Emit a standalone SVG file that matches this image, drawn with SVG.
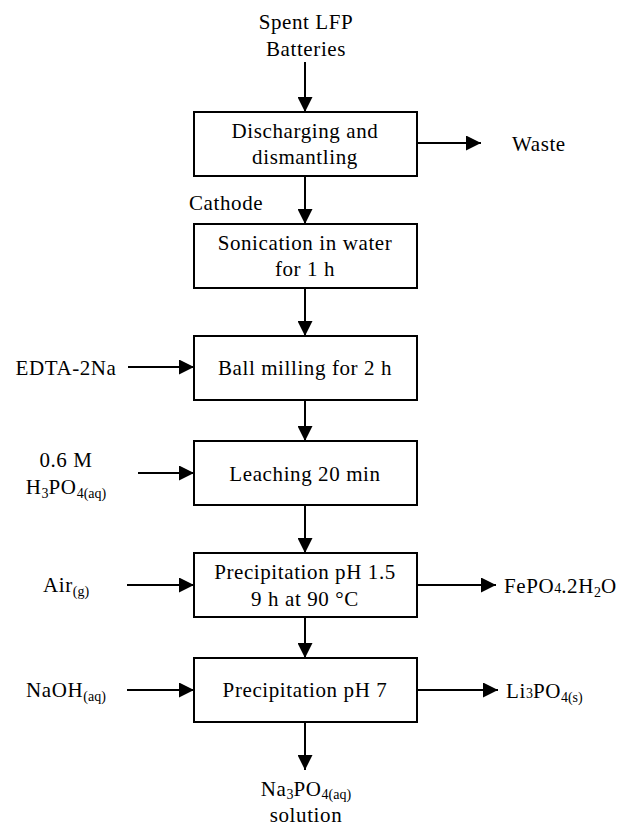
<svg xmlns="http://www.w3.org/2000/svg" width="618" height="826" viewBox="0 0 618 826">
<style>
text{font-family:"Liberation Serif","Times New Roman",serif;font-size:21px;letter-spacing:0.6px;fill:#000}
.c{text-anchor:middle}
.box{fill:#fff;stroke:#000;stroke-width:2}
.ln{stroke:#000;stroke-width:2;fill:none;marker-end:url(#ah)}
.sub{font-size:14px;letter-spacing:0}
</style>
<defs>
<marker id="ah" viewBox="0 0 15 15" refX="15" refY="7.5" markerWidth="15" markerHeight="15" markerUnits="userSpaceOnUse" orient="auto">
<path d="M0,0 L15,7.5 L0,15 Z" fill="#000"/>
</marker>
</defs>
<rect width="618" height="826" fill="#fff"/>
<g id="connectors">
<line class="ln" x1="305" y1="62" x2="305" y2="112"/>
<line class="ln" x1="305" y1="176" x2="305" y2="224"/>
<line class="ln" x1="305" y1="288" x2="305" y2="336"/>
<line class="ln" x1="305" y1="400" x2="305" y2="441"/>
<line class="ln" x1="305" y1="505" x2="305" y2="553"/>
<line class="ln" x1="305" y1="617" x2="305" y2="658"/>
<line class="ln" x1="305" y1="722" x2="305" y2="770"/>
<line class="ln" x1="417" y1="143" x2="481" y2="143"/>
<line class="ln" x1="128" y1="367" x2="194" y2="367"/>
<line class="ln" x1="138" y1="473" x2="194" y2="473"/>
<line class="ln" x1="127" y1="585" x2="194" y2="585"/>
<line class="ln" x1="127" y1="690" x2="194" y2="690"/>
<line class="ln" x1="417" y1="585" x2="496" y2="585"/>
<line class="ln" x1="417" y1="690" x2="498" y2="690"/>
</g>
<g id="spent">
<text class="c" x="306" y="29">Spent LFP</text>
<text class="c" x="306" y="56">Batteries</text>
</g>
<g id="discharging">
<rect class="box" x="194" y="112" width="223" height="64"/>
<text class="c" x="305" y="138">Discharging and</text>
<text class="c" x="305" y="164">dismantling</text>
</g>
<g id="waste"><text x="512" y="151">Waste</text></g>
<g id="cathode"><text x="189" y="210">Cathode</text></g>
<g id="sonication">
<rect class="box" x="194" y="224" width="223" height="64"/>
<text class="c" x="305" y="250">Sonication in water</text>
<text class="c" x="305" y="276">for 1 h</text>
</g>
<g id="edta"><text class="c" x="66" y="375">EDTA-2Na</text></g>
<g id="ballmilling">
<rect class="box" x="194" y="336" width="223" height="64"/>
<text class="c" x="305" y="375">Ball milling for 2 h</text>
</g>
<g id="h3po4">
<text class="c" x="66" y="467">0.6 M</text>
<text class="c" x="66" y="494">H<tspan class="sub" dy="4">3</tspan><tspan dy="-4">PO</tspan><tspan class="sub" dy="4">4(aq)</tspan></text>
</g>
<g id="leaching">
<rect class="box" x="194" y="441" width="223" height="64"/>
<text class="c" x="305" y="481">Leaching 20 min</text>
</g>
<g id="air"><text class="c" x="66" y="592">Air<tspan class="sub" dy="4">(g)</tspan></text></g>
<g id="precip1">
<rect class="box" x="194" y="553" width="223" height="64"/>
<text class="c" x="305" y="579">Precipitation pH 1.5</text>
<text class="c" x="305" y="606">9 h at 90 °C</text>
</g>
<g id="fepo4"><text x="504" y="593">FePO<tspan class="sub">4</tspan>.2H<tspan class="sub" dy="4">2</tspan><tspan dy="-4">O</tspan></text></g>
<g id="naoh"><text class="c" x="66" y="697">NaOH<tspan class="sub" dy="4">(aq)</tspan></text></g>
<g id="precip2">
<rect class="box" x="194" y="658" width="223" height="64"/>
<text class="c" x="305" y="697">Precipitation pH 7</text>
</g>
<g id="li3po4"><text x="506" y="698">Li<tspan class="sub">3</tspan>PO<tspan class="sub" dy="4">4(s)</tspan></text></g>
<g id="na3po4">
<text class="c" x="306" y="796">Na<tspan class="sub" dy="3">3</tspan><tspan dy="-3">PO</tspan><tspan class="sub" dy="3">4(aq)</tspan></text>
<text class="c" x="306" y="822">solution</text>
</g>
</svg>
